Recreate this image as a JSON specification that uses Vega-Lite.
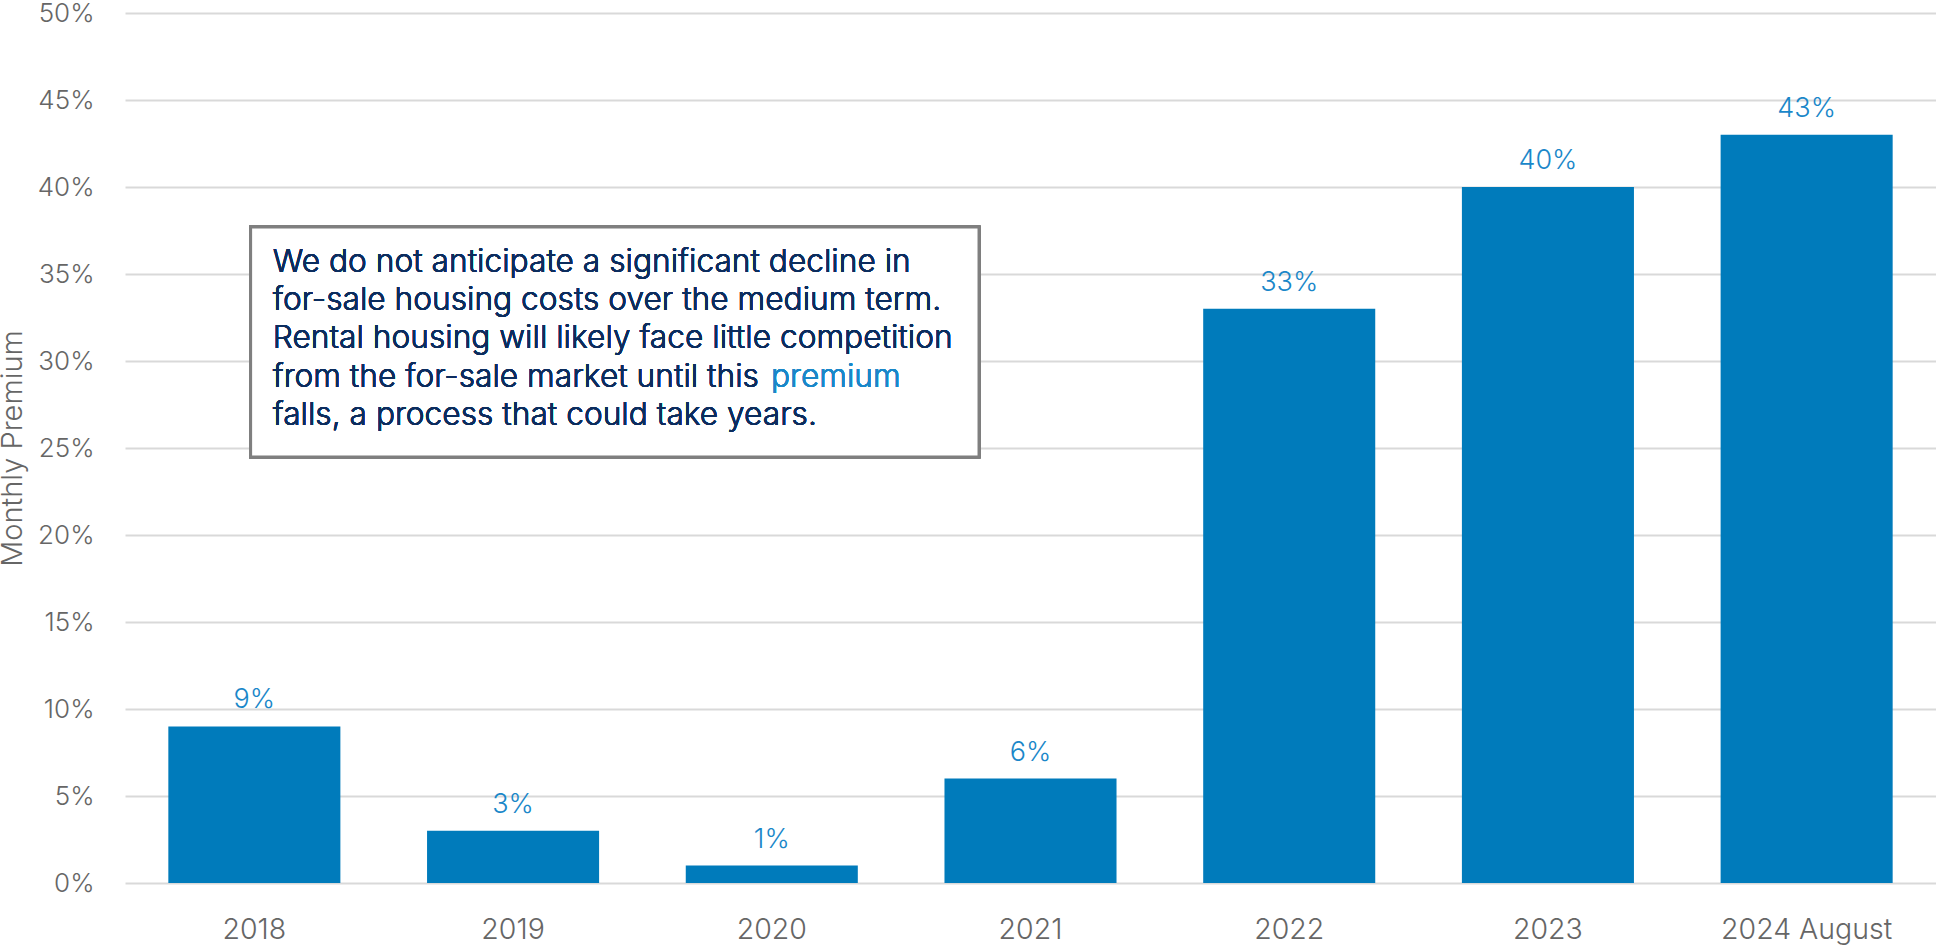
{
  "$schema": "https://vega.github.io/schema/vega-lite/v6.json",
  "width": 1811,
  "height": 870,
  "autosize": {"type": "none"},
  "padding": {"left": 125, "top": 13, "right": 0, "bottom": 64},
  "background": "white",
  "config": {
    "view": {"stroke": null},
    "font": "Inter"
  },
  "data": {
    "values": [
      {"year": "2018", "premium": 0.09},
      {"year": "2019", "premium": 0.03},
      {"year": "2020", "premium": 0.01},
      {"year": "2021", "premium": 0.06},
      {"year": "2022", "premium": 0.33},
      {"year": "2023", "premium": 0.40},
      {"year": "2024 August", "premium": 0.43}
    ]
  },
  "encoding": {
    "y": {
      "field": "premium",
      "type": "quantitative",
      "scale": {"domain": [0, 0.5], "nice": false},
      "axis": {
        "title": "Monthly Premium",
        "format": ".0%",
        "values": [0, 0.05, 0.1, 0.15, 0.2, 0.25, 0.3, 0.35, 0.4, 0.45, 0.5],
        "domain": false,
        "ticks": false,
        "grid": true,
        "gridColor": "#d9d9d9",
        "gridWidth": 2,
        "labelFont": "Inter",
        "labelFontWeight": 300,
        "labelFontSize": 26,
        "labelColor": "#666666",
        "labelPadding": 31,
        "titleFont": "Inter",
        "titleFontWeight": 300,
        "titleFontSize": 29,
        "titleColor": "#666666",
        "titleX": -104,
        "titleBaseline": "alphabetic"
      }
    }
  },
  "layer": [
    {
      "encoding": {
        "x": {
          "field": "year",
          "type": "nominal",
          "sort": null,
          "scale": {"paddingInner": 0.335, "paddingOuter": 0.1675},
          "axis": {
            "title": null,
            "labelAngle": 0,
            "domain": false,
            "ticks": false,
            "grid": false,
            "labelFont": "Inter",
            "labelFontWeight": 300,
            "labelFontSize": 28.5,
            "labelColor": "#666666",
            "labelPadding": 55,
            "labelBaseline": "alphabetic"
          }
        }
      },
      "layer": [
        {"mark": {"type": "bar", "color": "#007bbb"}},
        {
          "mark": {"type": "text", "baseline": "alphabetic", "dy": -18, "fontSize": 27, "fontWeight": 300, "color": "#1a87c9"},
          "encoding": {
            "text": {"field": "premium", "type": "quantitative", "format": ".0%"}
          }
        }
      ]
    },
    {
      "mark": {"type": "rect", "fill": "white", "stroke": "#7f7f7f", "strokeWidth": 3},
      "encoding": {
        "x": {"datum": 0.4855, "type": "quantitative", "scale": {"domain": [0, 7]}, "axis": null},
        "x2": {"datum": 3.301},
        "y": {"datum": 0.377},
        "y2": {"datum": 0.2448}
      }
    },
    {
      "mark": {"type": "text", "align": "left", "baseline": "alphabetic", "fontSize": 31.7, "fontWeight": 300, "lineHeight": 38.4, "color": "#0c2d5e"},
      "encoding": {
        "x": {"datum": 0.571, "type": "quantitative", "scale": {"domain": [0, 7]}, "axis": null},
        "y": {"datum": 0.3514},
        "text": {"value": ["We do not anticipate a significant decline in", "for-sale housing costs over the medium term.", "Rental housing will likely face little competition", "from the for-sale market until this", "falls, a process that could take years."]}
      }
    },
    {
      "mark": {"type": "text", "align": "left", "baseline": "alphabetic", "fontSize": 31.7, "fontWeight": 300, "color": "#1a87c9"},
      "encoding": {
        "x": {"datum": 2.497, "type": "quantitative", "scale": {"domain": [0, 7]}, "axis": null},
        "y": {"datum": 0.2852},
        "text": {"value": "premium"}
      }
    }
  ],
  "resolve": {"scale": {"x": "independent"}, "axis": {"x": "independent"}}
}
